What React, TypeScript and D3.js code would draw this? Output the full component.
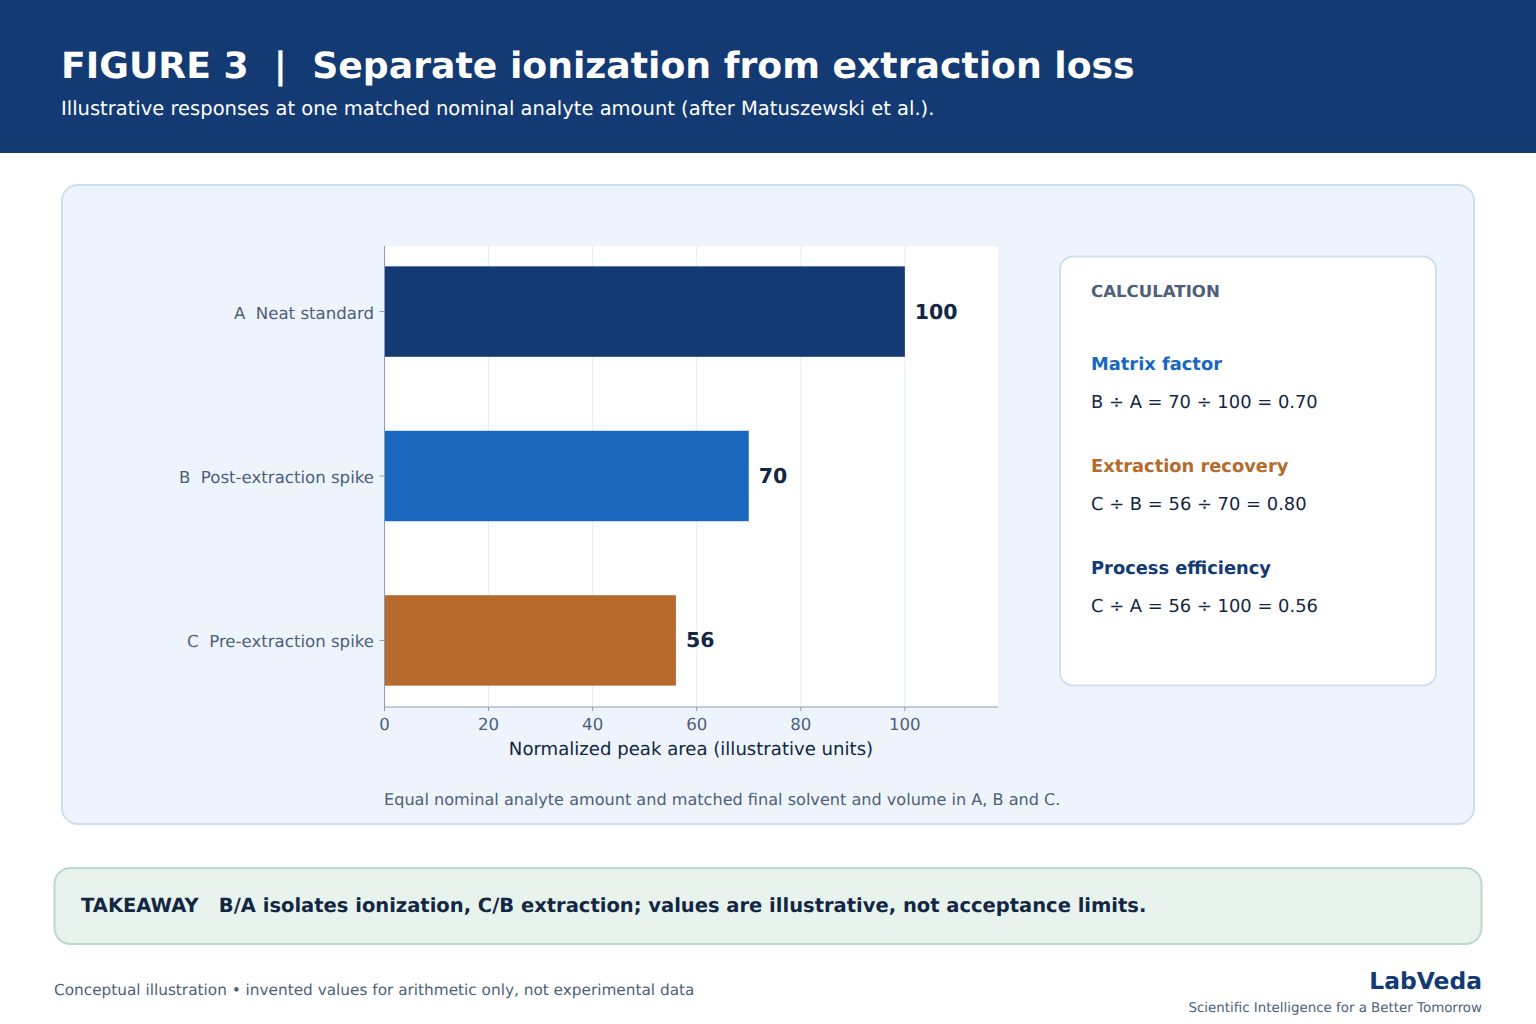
import React from "react";
import * as d3 from "d3";

const categories = ["A  Neat standard", "B  Post-extraction spike", "C  Pre-extraction spike"];
const values = [100, 70, 56];
const barColors = ["#133a73", "#1a68bd", "#b66a2e"];
const xTicks = [0, 20, 40, 60, 80, 100];
const xMax = 117.9;

const calcBlocks = [
  { title: "Matrix factor", color: "#1a68bd", body: "B ÷ A = 70 ÷ 100 = 0.70" },
  { title: "Extraction recovery", color: "#b66a2e", body: "C ÷ B = 56 ÷ 70 = 0.80" },
  { title: "Process efficiency", color: "#133a73", body: "C ÷ A = 56 ÷ 100 = 0.56" },
];

const FONT = "'DejaVu Sans', sans-serif";
const INK = "#132744";
const MUTED = "#4d5f7a";
const NAVY = "#133a73";

export default function App() {
  const left = 384.5, right = 998, top = 246, bottom = 707;
  const x = d3.scaleLinear().domain([0, xMax]).range([left, right]);
  const y = d3.scaleBand<string>().domain(categories).range([top - 0.2, bottom - 0.8]).paddingInner(0.45).paddingOuter(0.125);
  return (
    <svg width={1536} height={1024} viewBox="0 0 1536 1024" fontFamily={FONT} textRendering="geometricPrecision"
      style={{ position: "absolute", left: 0, top: 0, display: "block", background: "#fff" }}>
      <rect x={0} y={0} width={1536} height={153} fill={NAVY} />
      <text x={61} y={78} fontSize={36.2} fontWeight={700} fill="#fff" xmlSpace="preserve">FIGURE 3  |  Separate ionization from extraction loss</text>
      <text x={61} y={114.5} fontSize={19.5} fill="#fff">Illustrative responses at one matched nominal analyte amount (after Matuszewski et al.).</text>

      <rect x={62} y={185} width={1412} height={639} rx={16} fill="#edf4fc" stroke="#cfdfee" strokeWidth={2} />
      <rect x={left} y={top} width={right - left} height={bottom - top} fill="#fff" />
      {xTicks.map((t) => (
        <line key={t} x1={x(t)} x2={x(t)} y1={top} y2={bottom} stroke="#e6edf4" strokeWidth={1} />
      ))}
      {categories.map((c, i) => (
        <g key={c}>
          <rect x={x(0)} y={y(c)!} width={x(values[i]) - x(0)} height={y.bandwidth()} fill={barColors[i]} />
          <text x={x(values[i]) + 10} y={y(c)! + y.bandwidth() / 2 + 7} fontSize={20.5} fontWeight={700} fill={INK}>{values[i]}</text>
          <line x1={left - 5} x2={left} y1={y(c)! + y.bandwidth() / 2} y2={y(c)! + y.bandwidth() / 2} stroke="#8a9db8" />
          <text x={374} y={y(c)! + y.bandwidth() / 2 + 7} textAnchor="end" fontSize={16.6} fill={MUTED} xmlSpace="preserve">{c}</text>
        </g>
      ))}
      <line x1={left} x2={left} y1={top} y2={bottom} stroke="#8a9db8" />
      <line x1={left} x2={right} y1={bottom} y2={bottom} stroke="#8a9db8" />
      {xTicks.map((t) => (
        <g key={t}>
          <line x1={x(t)} x2={x(t)} y1={bottom} y2={bottom + 4} stroke="#8a9db8" />
          <text x={x(t)} y={730} textAnchor="middle" fontSize={16.6} fill={MUTED}>{t}</text>
        </g>
      ))}
      <text x={691} y={755} textAnchor="middle" fontSize={18.1} fill={INK}>Normalized peak area (illustrative units)</text>
      <text x={384} y={804.5} fontSize={16.1} fill={MUTED}>Equal nominal analyte amount and matched final solvent and volume in A, B and C.</text>

      <rect x={1060} y={256.5} width={376} height={429} rx={13} fill="#fff" stroke="#cfdfee" strokeWidth={2} />
      <text x={1091} y={297} fontSize={16.6} fontWeight={700} fill={MUTED}>CALCULATION</text>
      {calcBlocks.map((b, i) => (
        <g key={b.title}>
          <text x={1091} y={370 + i * 102} fontSize={17.85} fontWeight={700} fill={b.color}>{b.title}</text>
          <text x={1091} y={408 + i * 102} fontSize={17.9} fill={INK}>{b.body}</text>
        </g>
      ))}

      <rect x={54.5} y={868} width={1427} height={76} rx={16} fill="#e9f3ed" stroke="#b9dcc8" strokeWidth={2} />
      <text x={81} y={912} fontSize={19.5} fontWeight={700} fill={INK} xmlSpace="preserve">TAKEAWAY   B/A isolates ionization, C/B extraction; values are illustrative, not acceptance limits.</text>

      <text x={54} y={995} fontSize={15.3} fill={MUTED}>Conceptual illustration • invented values for arithmetic only, not experimental data</text>
      <text x={1482} y={989} textAnchor="end" fontSize={23.4} fontWeight={700} fill={NAVY}>LabVeda</text>
      <text x={1482} y={1012} textAnchor="end" fontSize={13.4} fill={MUTED}>Scientific Intelligence for a Better Tomorrow</text>
    </svg>
  );
}
